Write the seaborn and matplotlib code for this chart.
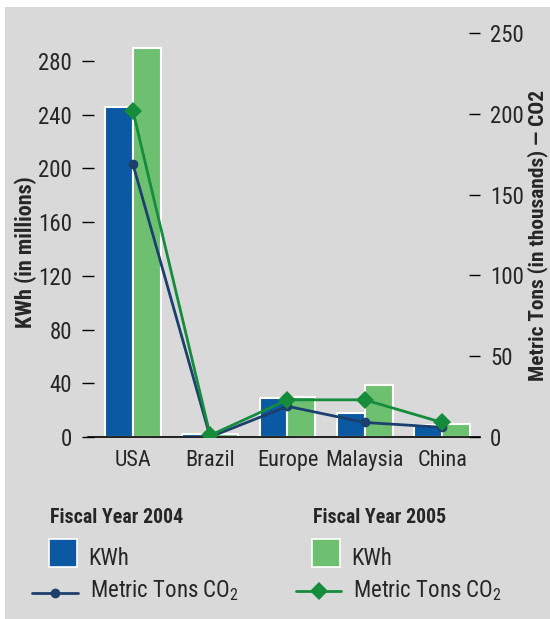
import numpy as np
import pandas as pd
import matplotlib.pyplot as plt
import seaborn as sns
from matplotlib import font_manager
from matplotlib.patches import Rectangle
from matplotlib.lines import Line2D

regions = ['USA', 'Brazil', 'Europe', 'Malaysia', 'China']
kwh_2004 = [246, 2, 29, 18, 9]
kwh_2005 = [290, 2, 30, 39, 10]
co2_2004 = [169, 0, 19, 9, 6]
co2_2005 = [202, 1, 23, 23, 9]
left_ticks = [0, 40, 80, 120, 160, 200, 240, 280]
right_ticks = [0, 50, 100, 150, 200, 250]

BLUE = '#0b58a3'
LIGHT_GREEN = '#6dc070'
NAVY = '#1c3f6e'
GREEN = '#148c3c'
BG = '#d9d9d9'

# the reference uses a condensed face; take whatever narrow family exists
ttf = font_manager.fontManager.ttflist
names = {f.name for f in ttf}
family, stretch = 'Roboto', 'normal'
for cand in ['Roboto Condensed', 'Liberation Sans Narrow', 'DejaVu Sans Condensed',
             'Open Sans Condensed']:
    if cand in names:
        family = cand
        break
else:
    cond = [f.name for f in ttf if str(f.stretch) in ('condensed', 'semi-condensed')
            or 'ondensed' in f.fname or 'Narrow' in f.fname]
    if cond:
        family, stretch = cond[0], 'condensed'

sns.set_style('white')
plt.rcParams['font.family'] = [family, 'DejaVu Sans']
plt.rcParams['font.stretch'] = stretch
plt.rcParams['mathtext.fontset'] = 'custom'
plt.rcParams['mathtext.rm'] = family
plt.rcParams['mathtext.default'] = 'regular'

W, H = 550, 619
fig = plt.figure(figsize=(5.5, 6.19), dpi=100, facecolor='white')
fig.patches.append(Rectangle((5 / W, 0), 1, 1 - 7 / H, transform=fig.transFigure,
                             facecolor=BG, edgecolor='none', zorder=-10))

ax = fig.add_axes([88 / W, 1 - 437 / H, 392 / W, 404 / H])
ax.set_facecolor('none')

df = pd.DataFrame({
    'region': regions * 2,
    'kwh': kwh_2004 + kwh_2005,
    'year': ['2004'] * 5 + ['2005'] * 5,
})
sns.barplot(data=df, x='region', y='kwh', hue='year', palette=[BLUE, LIGHT_GREEN],
            saturation=1, width=0.72, edgecolor='white', linewidth=1.5,
            legend=False, ax=ax)

ax.set_xlim(-0.58, 4.49)
ax.set_ylim(0, 300.8)
ax.set_yticks(left_ticks)
ax.set_xlabel('')
ax.set_ylabel('KWh (in millions)', fontsize=16, fontweight='bold')
ax.yaxis.set_label_coords(-0.13, 0.458)
ax.tick_params(axis='y', direction='inout', length=8, width=1, color='black',
               pad=7.5, labelsize=16.5)
ax.tick_params(axis='x', length=0, pad=9.5, labelsize=16)
for s in ['left', 'top', 'right']:
    ax.spines[s].set_visible(False)
ax.spines['bottom'].set_color('black')
ax.spines['bottom'].set_linewidth(1.2)
ax.spines['bottom'].set_zorder(5)

ax2 = ax.twinx()
pos = np.arange(len(regions))
sns.lineplot(x=pos, y=co2_2004, color=NAVY, linewidth=2, marker='o', markersize=7,
             markeredgewidth=0, sort=False, ax=ax2)
sns.lineplot(x=pos, y=co2_2005, color=GREEN, linewidth=2, marker='D', markersize=9,
             markeredgewidth=0, sort=False, ax=ax2)
ax2.set_ylim(0, 250)
ax2.set_yticks(right_ticks)
ax2.tick_params(axis='y', direction='in', length=8, width=1, color='black',
                pad=7.2, labelsize=16.5)
for s in ['left', 'top', 'right', 'bottom']:
    ax2.spines[s].set_visible(False)
ax2.set_ylabel('Metric Tons (in thousands) \u2014 CO2', fontsize=15.4, fontweight='bold')
ax2.yaxis.set_label_coords(1.121, 0.5)


def fx(px):
    return px / W


def fy(py):
    return 1 - py / H


# legend, drawn by hand in two columns
for x0, title, sq_col, ln_col, mk, ms, lx0, lx1, ly in [
    (50, 'Fiscal Year 2004', BLUE, NAVY, 'o', 7, 32, 78, 593),
    (313, 'Fiscal Year 2005', LIGHT_GREEN, GREEN, 'D', 9, 296, 341, 591),
]:
    fig.text(fx(x0), fy(523), title, fontsize=14.3, fontweight='bold', va='baseline')
    fig.patches.append(Rectangle((fx(x0 - 1), fy(567)), 28 / W, 28 / H,
                                 transform=fig.transFigure, facecolor=sq_col,
                                 edgecolor='white', linewidth=1.2))
    fig.text(fx(x0 + 38), fy(565), 'KWh', fontsize=16.5, va='baseline')
    fig.add_artist(Line2D([fx(lx0), fx(lx1)], [fy(ly), fy(ly)], color=ln_col,
                          linewidth=2, transform=fig.transFigure))
    fig.add_artist(Line2D([fx((lx0 + lx1) / 2)], [fy(ly)], color=ln_col, marker=mk,
                          markersize=ms, markeredgewidth=0, transform=fig.transFigure))
    fig.text(fx(x0 + 40), fy(597), 'Metric Tons CO$_2$', fontsize=16.5, va='baseline')

fig.savefig('out.png', dpi=100, facecolor=fig.get_facecolor())
